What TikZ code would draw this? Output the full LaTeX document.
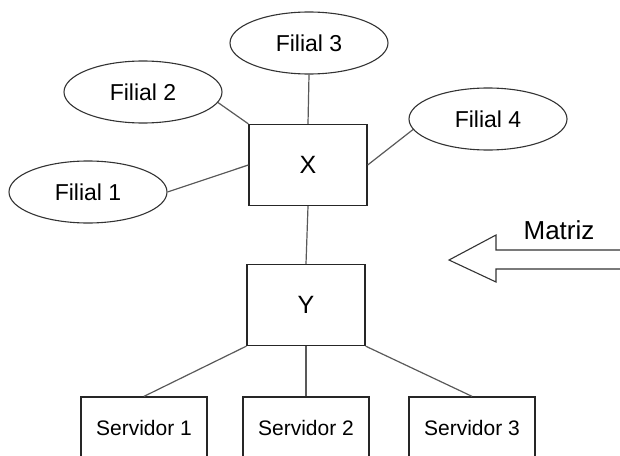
\documentclass[tikz,border=0pt]{standalone}
\usepackage{fontspec}
\setmainfont{Liberation Sans}
\tikzset{
  filial/.style={draw=black!80, line width=1.1pt, ellipse, minimum width=158pt, minimum height=62pt, inner sep=0pt, font=\fontsize{23}{26}\selectfont},
  caixa/.style={draw=black!85, line width=1.3pt, rectangle, minimum width=118pt, minimum height=81pt, inner sep=0pt, font=\fontsize{25}{28}\selectfont},
  servidor/.style={draw=black!85, line width=1.3pt, rectangle, minimum width=126pt, minimum height=62pt, inner sep=0pt, font=\fontsize{21}{24}\selectfont},
  liga/.style={draw=black!65, line width=1.2pt, -}
}
\usetikzlibrary{shapes.geometric}
\begin{document}
\begin{tikzpicture}[x=1pt,y=-1pt]
\useasboundingbox (0,0) rectangle (620,455);
\clip (0,0) rectangle (620,455);
\node[filial] (f1) at (88,192) {Filial 1};
\node[filial] (f2) at (143,92) {Filial 2};
\node[filial] (f3) at (309,43) {Filial 3};
\node[filial] (f4) at (488,119) {Filial 4};
\node[caixa] (x) at (308,165) {X};
\node[caixa] (y) at (306,305) {Y};
\node[servidor] (s1) at (144,428) {Servidor 1};
\node[servidor] (s2) at (306,428) {Servidor 2};
\node[servidor] (s3) at (472,428) {Servidor 3};
\path[liga] (f1.east) -- (x.west);
\path[liga] (f2.-8) -- (x.north west);
\path[liga] (f3.south) -- (x.north);
\path[liga] (f4.-172) -- (x.east);
\path[liga] (x.south) -- (y.north);
\path[liga] (y.south west) -- (s1.north);
\path[liga] (y.south) -- (s2.north);
\path[liga] (y.south east) -- (s3.north);

% seta da matriz
\coordinate (ponta) at (449,260);
\path[draw=black!80,line width=1.1pt,line join=miter] (620,250) -- (496,250) -- (496,235) -- (ponta) -- (496,282) -- (496,269) -- (620,269);
\node[font=\fontsize{26}{30}\selectfont] (matriz) at (559,230) {Matriz};
\end{tikzpicture}
\end{document}
